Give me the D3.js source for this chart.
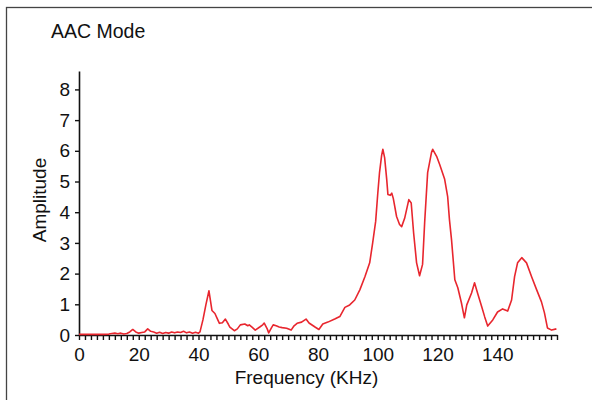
<!DOCTYPE html>
<html>
<head>
<meta charset="utf-8">
<script src="https://cdn.jsdelivr.net/npm/d3@7"></script>
<style>
    body { margin: 0; background: #fff; }
    text { font-family: Arial, "Liberation Sans", Helvetica, sans-serif; fill: #111; }
</style>
</head>
<body>
<div id="chart"></div>
<script>
const chart_width = 592;
const chart_height = 400;

// plot area in pixels
const plot = { left: 79, right: 557, top: 71, bottom: 335 };

const title = "AAC Mode";
const x_label = "Frequency (KHz)";
const y_label = "Amplitude";

const x_domain = [0, 160];
const y_domain = [0, 8.6];
const x_major_ticks = [0, 20, 40, 60, 80, 100, 120, 140];
const y_ticks = [0, 1, 2, 3, 4, 5, 6, 7, 8];

// spectrum
const frequency = [0, 2, 4, 6, 8, 10, 11, 12, 13, 14, 15, 16, 17, 18, 19, 20, 21, 22, 23, 24, 25, 26, 27, 28, 29, 30,
    31, 32, 33, 34, 35, 36, 37, 38, 39, 40, 40.5, 41.5, 42.5, 43.5, 44.5, 45.5, 46.2, 47, 48, 49, 50, 50.5, 52, 53,
    54, 55.5, 56.5, 57, 58, 59, 60.5, 61.5, 62, 63, 63.5, 64.5, 65, 66, 67, 68, 69.5, 71, 72, 73, 74.5, 76, 77, 79,
    80.3, 81.6, 83.3, 85.6, 87.3, 89, 90.6, 92.3, 94, 95.7, 97.3, 98.3, 99.3, 100, 100.6, 101.3, 101.7, 102.3, 103,
    103.4, 104.2, 104.7, 105.2, 106.3, 107.3, 108, 109, 110.4, 111.2, 112, 113, 114, 115, 115.7, 116.7, 118, 118.4,
    119.7, 120.7, 122.4, 123.4, 124, 124.7, 125.8, 126.8, 128, 129, 129.8, 131.4, 132.4, 133.4, 134.8, 135.8, 136.8,
    138.5, 140.1, 141.8, 143.5, 144.8, 145.8, 146.8, 148.2, 149.8, 151.5, 153.2, 154.8, 155.8, 156.8, 158.2, 159.8];
const amplitude = [0.02, 0.02, 0.02, 0.02, 0.02, 0.03, 0.05, 0.06, 0.04, 0.06, 0.03, 0.05, 0.1, 0.18, 0.1, 0.06, 0.08, 0.1, 0.2, 0.12, 0.1, 0.06, 0.09, 0.05, 0.08, 0.06,
    0.1, 0.07, 0.1, 0.08, 0.12, 0.07, 0.1, 0.06, 0.09, 0.06, 0.1, 0.5, 1.0, 1.44, 0.8, 0.7, 0.55, 0.38, 0.4, 0.52, 0.35, 0.26, 0.14, 0.2,
    0.33, 0.36, 0.3, 0.33, 0.25, 0.16, 0.26, 0.33, 0.39, 0.2, 0.07, 0.25, 0.33, 0.3, 0.26, 0.24, 0.22, 0.16, 0.3, 0.38, 0.42, 0.52, 0.39, 0.26,
    0.18, 0.36, 0.42, 0.52, 0.6, 0.9, 0.98, 1.14, 1.47, 1.9, 2.35, 3.0, 3.7, 4.6, 5.3, 5.85, 6.05, 5.78, 5.07,
    4.58, 4.55, 4.62, 4.45, 3.86, 3.6, 3.53, 3.8, 4.41, 4.3, 3.33, 2.35, 1.93, 2.3, 3.66, 5.29, 5.95, 6.05,
    5.82, 5.56, 5.07, 4.51, 3.76, 3.1, 1.8, 1.54, 1.05, 0.56, 0.98, 1.37, 1.7, 1.37, 0.92, 0.59, 0.29,
    0.49, 0.75, 0.85, 0.78, 1.14, 1.9, 2.35, 2.52, 2.35, 1.9, 1.47, 1.08, 0.72, 0.23, 0.16, 0.2];

function drawChart(htmlID) {

    let svg = d3.select("#" + htmlID)
        .append("svg")
        .attr("width", chart_width)
        .attr("height", chart_height);

    // outer frame, right and bottom edges run off the picture
    svg.append("rect")
        .attr("x", 6.5)
        .attr("y", 7.5)
        .attr("width", 620)
        .attr("height", 420)
        .attr("fill", "none")
        .attr("stroke", "#444")
        .attr("stroke-width", 1.3);

    svg.append("text")
        .attr("x", 51)
        .attr("y", 37.5)
        .style("font-size", "19.5px")
        .text(title);

    let x = d3.scaleLinear()
        .domain(x_domain)
        .range([plot.left, plot.right]);

    let y = d3.scaleLinear()
        .domain(y_domain)
        .range([plot.bottom, plot.top]);

    // bottom axis with minor ticks every 2 kHz
    let minor = d3.range(0, 161, 2);
    let xAxis = svg.append("g")
        .attr("class", "axis")
        .attr("transform", "translate(0, " + plot.bottom + ")")
        .call(d3.axisBottom(x)
            .tickValues(minor)
            .tickSize(5)
            .tickSizeOuter(0)
            .tickFormat(d => x_major_ticks.includes(d) ? d : ""));
    xAxis.select(".domain").attr("stroke-width", 1.6).attr("stroke", "#111");
    xAxis.selectAll(".tick line").attr("stroke-width", 1.4).attr("stroke", "#111");
    xAxis.selectAll(".tick text")
        .attr("y", 13)
        .attr("dy", "0.71em")
        .attr("fill", "#111")
        .style("font-size", "19px");

    // left axis
    let yAxis = svg.append("g")
        .attr("class", "axis")
        .attr("transform", "translate(" + plot.left + ", 0)")
        .call(d3.axisLeft(y)
            .tickValues(y_ticks)
            .tickSize(4)
            .tickSizeOuter(0)
            .tickFormat(d3.format("d")));
    yAxis.select(".domain").attr("stroke-width", 1.6).attr("stroke", "#111");
    yAxis.selectAll(".tick line").attr("stroke-width", 1.4).attr("stroke", "#111");
    yAxis.selectAll(".tick text")
        .attr("x", -9)
        .attr("fill", "#111")
        .style("font-size", "19px");

    svg.append("text")
        .attr("x", 306.5)
        .attr("y", 384)
        .attr("text-anchor", "middle")
        .style("font-size", "19px")
        .text(x_label);

    svg.append("text")
        .attr("transform", "translate(46, 200) rotate(-90)")
        .attr("text-anchor", "middle")
        .style("font-size", "19px")
        .text(y_label);

    // the spectrum line
    let points = frequency.map((f, i) => ({ f: f, a: amplitude[i] }));
    svg.append("path")
        .datum(points)
        .attr("fill", "none")
        .attr("stroke", "#e8262e")
        .attr("stroke-width", 1.6)
        .attr("stroke-linejoin", "round")
        .attr("d", d3.line()
            .x(d => x(d.f))
            .y(d => y(d.a)));
}

drawChart("chart");
</script>
</body>
</html>
